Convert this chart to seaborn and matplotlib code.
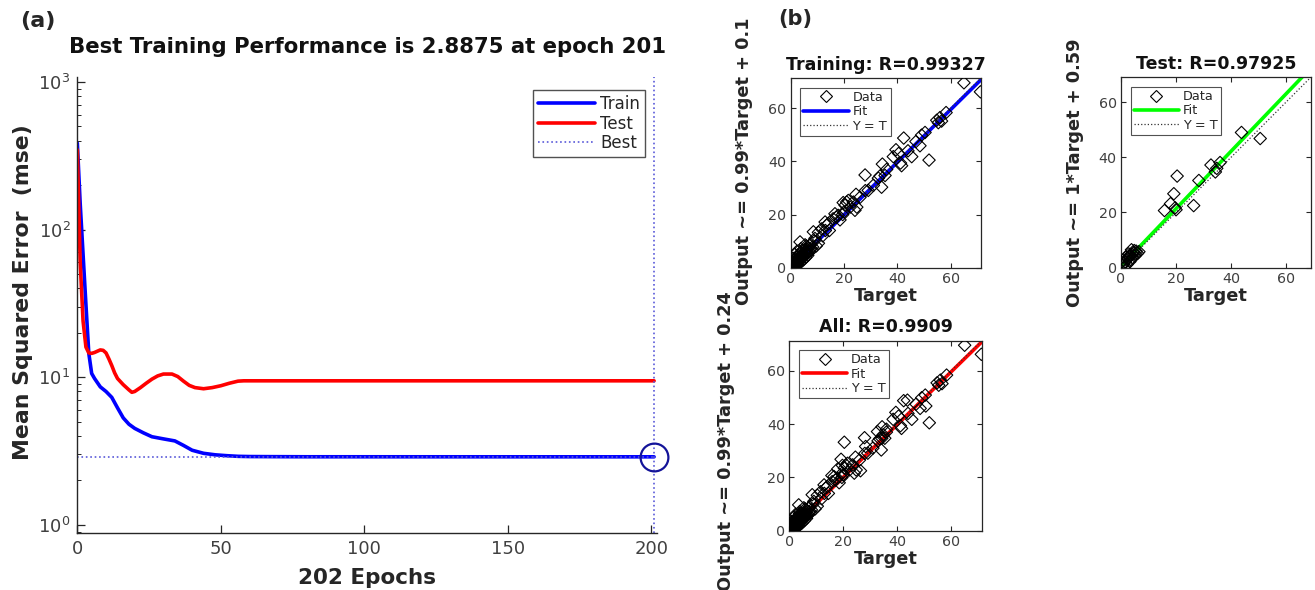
import numpy as np
import pandas as pd
import seaborn as sns
import matplotlib.pyplot as plt
from matplotlib.lines import Line2D

# ---- panel (a): training performance ----
train_epoch = [0, 1, 2, 3, 4, 5, 6, 8, 10, 12, 14, 16, 18, 20, 23, 26, 30, 34, 37, 40,
               44, 48, 52, 56, 60, 68, 80, 201]
train_mse = [385, 150, 68, 31, 14.5, 10.6, 9.8, 8.6, 8.0, 7.3, 6.2, 5.3, 4.8, 4.5, 4.2,
             3.95, 3.82, 3.7, 3.45, 3.2, 3.05, 2.98, 2.94, 2.91, 2.9, 2.895, 2.89, 2.8875]

test_epoch = [0, 1, 2, 3, 4, 5, 6, 7, 8, 9, 10, 11, 12, 13, 14, 16, 18, 19, 20, 22, 24,
              26, 28, 30, 33, 35, 37, 39, 41, 44, 47, 50, 53, 56, 58, 201]
test_mse = [347, 60, 24, 16, 14.6, 14.5, 14.7, 15.0, 15.3, 15.2, 14.6, 13.3, 12.0, 10.7,
            9.8, 8.9, 8.2, 7.9, 8.0, 8.5, 9.1, 9.7, 10.2, 10.5, 10.5, 10.1, 9.4, 8.8, 8.5,
            8.35, 8.5, 8.75, 9.1, 9.4, 9.45, 9.45]

best_epoch = 201
best_perf = 2.8875
n_epochs = 202

# ---- panel (b): regression ----
train_target = [65.0, 71.2, 58.3, 56.0, 55.4, 54.8, 56.6, 50.4, 49.1, 48.5, 51.9, 42.4,
                39.5, 38.5, 41.6, 41.2, 45.4, 40.5, 34.4, 35.4, 32.9, 34.1, 27.9, 29.1,
                28.0, 31.0, 24.5, 23.5, 21.0, 20.4, 19.7, 21.6, 22.3, 24.1, 24.8, 16.6,
                17.8, 15.9, 17.1, 18.5, 19.5, 14.1, 13.5, 12.9, 11.6, 10.4, 8.5, 3.5, 9.1,
                10.4, 7.3, 5.4, 12.0, 13.0, 14.5, 20.0, 26.0, 33.5, 44.0, 47.0, 36.0,
                0.3, 0.5, 0.8, 1.0, 1.2, 1.5, 1.7, 2.0, 2.2, 2.5, 2.7, 3.0, 3.2, 3.5, 3.7,
                4.0, 4.2, 4.5, 4.7, 5.0, 5.2, 5.5, 5.8, 6.0, 6.3, 6.6, 7.0, 7.3, 7.8, 8.2,
                0.2, 0.6, 0.9, 1.3, 1.8, 2.3, 2.8, 3.3, 3.8, 4.3, 0.4, 1.1, 1.9, 2.6, 3.4,
                4.1, 4.8, 5.6, 6.4, 0.1, 0.7, 1.4, 2.1, 2.9, 3.6, 4.4, 5.3, 6.2, 2.4, 1.6,
                0.9, 3.9, 5.9, 7.6, 8.8, 9.6]
train_output = [69.6, 66.2, 58.4, 56.5, 54.6, 55.5, 55.2, 50.9, 49.9, 45.9, 40.5, 48.8,
                44.4, 41.8, 38.4, 39.4, 41.8, 43.0, 39.0, 34.7, 33.7, 30.3, 34.9, 29.1,
                29.0, 31.0, 27.6, 24.7, 24.7, 23.5, 24.5, 25.3, 22.8, 21.6, 22.8, 20.3,
                19.7, 18.4, 19.0, 18.0, 20.0, 16.6, 16.0, 17.2, 14.6, 13.3, 13.5, 9.7, 11.0,
                9.2, 8.6, 8.6, 12.0, 14.0, 14.0, 21.0, 26.5, 34.5, 44.0, 47.5, 37.0,
                0.2, 0.8, 0.4, 1.2, 0.6, 1.8, 1.0, 2.3, 1.5, 3.0, 2.0, 3.5, 2.6, 4.2, 3.0,
                4.8, 3.6, 5.4, 4.0, 5.8, 4.6, 6.2, 5.0, 6.6, 5.6, 7.2, 6.0, 7.0, 6.6, 7.8,
                1.0, 1.6, 2.2, 2.8, 3.4, 4.0, 4.6, 5.2, 5.8, 6.4, 0.0, 0.2, 0.8, 1.2, 1.8,
                2.4, 3.0, 3.8, 4.6, 0.5, 0.1, 1.4, 2.8, 3.3, 3.9, 4.4, 5.5, 7.0, 6.2, 5.0,
                3.5, 7.2, 8.2, 9.0, 10.0, 8.2]

test_target = [43.8, 50.6, 32.7, 36.0, 34.3, 28.3, 20.4, 19.2, 18.0, 15.8, 19.7, 20.0,
               26.4, 34.8, 0.5, 1.0, 1.5, 2.0, 2.5, 3.0, 3.5, 4.0, 4.5, 5.0, 5.5, 6.0,
               6.5, 2.2, 3.2, 4.2, 1.8, 2.8, 3.8, 1.2, 0.2, 5.2, 4.8, 3.4]
test_output = [49.0, 46.8, 37.2, 38.1, 34.7, 31.6, 33.2, 26.8, 23.2, 20.7, 21.7, 21.0,
               22.5, 36.0, 0.8, 1.5, 2.2, 2.8, 3.5, 4.2, 3.0, 4.8, 5.5, 4.2, 6.0, 5.2,
               5.8, 1.2, 2.2, 3.6, 3.8, 5.0, 6.5, 0.2, 2.0, 5.0, 6.2, 4.6]

panels = [
    dict(title="Training: R=0.99327", ylabel="Output ~= 0.99*Target + 0.1",
         slope=0.99, icpt=0.1, color=(0, 0, 1), lim=71.3,
         target=train_target, output=train_output),
    dict(title="Test: R=0.97925", ylabel="Output ~= 1*Target + 0.59",
         slope=1.04, icpt=0.59, color=(0, 1, 0), lim=69.0,
         target=test_target, output=test_output),
    dict(title="All: R=0.9909", ylabel="Output ~= 0.99*Target + 0.24",
         slope=0.99, icpt=0.24, color=(1, 0, 0), lim=71.3,
         target=train_target + test_target, output=train_output + test_output),
]

sns.set_style("white")
plt.rcParams['font.family'] = ['DejaVu Sans']
plt.rcParams['mathtext.fontset'] = 'dejavusans'

ink = '#262626'
tick_c = '#404040'

fig = plt.figure(figsize=(13.15, 5.9), dpi=100)

# ---------- (a) ----------
ax = fig.add_axes([0.0588, 0.0966, 0.4408, 0.7729])
sns.lineplot(x=train_epoch, y=train_mse, ax=ax, color=(0, 0, 1), lw=2.6)
sns.lineplot(x=test_epoch, y=test_mse, ax=ax, color=(1, 0, 0), lw=2.6)
best_c = (0.35, 0.35, 0.85)
ax.plot([0, best_epoch], [best_perf, best_perf], ls=':', color=best_c, lw=1.2)
ax.axvline(best_epoch, ls=':', color=best_c, lw=1.2)
ax.plot([best_epoch], [best_perf], 'o', mfc='none', mec=(0.08, 0.08, 0.6), ms=20, mew=1.6,
        clip_on=False, zorder=5)
ax.set_yscale('log')
ax.set_xlim(0, n_epochs)
ax.set_ylim(0.88, 1080)
ax.set_xticks([0, 50, 100, 150, 200])
for s in ['top', 'right']:
    ax.spines[s].set_visible(False)
for s in ['left', 'bottom']:
    ax.spines[s].set_color(ink)
    ax.spines[s].set_linewidth(1.0)
ax.tick_params(which='major', direction='in', length=6, width=0.9, color=ink,
               labelsize=13, labelcolor=tick_c, pad=5, bottom=True, left=True)
ax.tick_params(axis='y', which='minor', direction='in', length=3, width=0.7, color=ink,
               left=True)
ax.tick_params(axis='x', which='minor', bottom=False)
ax.set_title("Best Training Performance is 2.8875 at epoch 201", fontsize=15.3,
             fontweight='bold', pad=17, color='#111111')
ax.set_xlabel("202 Epochs", fontsize=15.5, fontweight='bold', color=ink, labelpad=7)
ax.set_ylabel("Mean Squared Error  (mse)", fontsize=15.8, fontweight='bold', color=ink)
ax.yaxis.set_label_coords(-0.077, 0.528)
handles = [Line2D([], [], color=(0, 0, 1), lw=2.6),
           Line2D([], [], color=(1, 0, 0), lw=2.6),
           Line2D([], [], color=best_c, lw=1.2, ls=':')]
leg = ax.legend(handles, ["Train", "Test", "Best"], loc='upper right',
                bbox_to_anchor=(0.979, 0.971), fontsize=12, fancybox=False,
                edgecolor=ink, handlelength=3.4, labelspacing=0.08,
                borderpad=0.3, handletextpad=0.3, borderaxespad=0)
leg.get_frame().set_linewidth(1.0)
for t in leg.get_texts():
    t.set_color(ink)

# ---------- (b) ----------
rects = [[0.6013, 0.5463, 0.1445, 0.321],
         [0.8525, 0.5463, 0.1443, 0.3227],
         [0.6002, 0.1005, 0.1463, 0.322]]
ylab_pos = [(-0.2, 0.56), (-0.195, 0.5), (-0.28, 0.47)]

for p, r, (lx, ly) in zip(panels, rects, ylab_pos):
    bx = fig.add_axes(r)
    df = pd.DataFrame({"Target": p["target"], "Output": p["output"]})
    lim = p["lim"]
    sns.scatterplot(data=df, x="Target", y="Output", ax=bx, marker='D', s=40,
                    facecolor='none', edgecolor='black', linewidth=0.8, zorder=3)
    fx = np.array([0, lim])
    bx.plot(fx, p["slope"] * fx + p["icpt"], color=p["color"], lw=2.6, zorder=2)
    bx.plot(fx, fx, ls=':', color='#333333', lw=0.9, zorder=2)
    bx.set_xlim(0, lim)
    bx.set_ylim(0, lim)
    bx.set_xticks([0, 20, 40, 60])
    bx.set_yticks([0, 20, 40, 60])
    for s in bx.spines.values():
        s.set_color(ink)
        s.set_linewidth(0.9)
    bx.tick_params(direction='in', length=3.5, width=0.8, color=ink, labelsize=10.3,
                   labelcolor=tick_c, top=True, right=True, bottom=True, left=True, pad=3)
    bx.set_title(p["title"], fontsize=12.5, fontweight='bold', pad=6, color='#111111')
    bx.set_xlabel("Target", fontsize=12.8, fontweight='bold', color=ink, labelpad=1)
    bx.set_ylabel(p["ylabel"], fontsize=12.8, fontweight='bold', color=ink)
    bx.yaxis.set_label_coords(lx, ly)
    hs = [Line2D([], [], marker='D', ls='none', mfc='none', mec='black', ms=6, mew=0.8),
          Line2D([], [], color=p["color"], lw=2.6),
          Line2D([], [], color='#333333', lw=0.9, ls=':')]
    lg = bx.legend(hs, ["Data", "Fit", "Y = T"], loc='upper left',
                   bbox_to_anchor=(0.05, 0.95), fontsize=9.3, fancybox=False,
                   edgecolor=ink, handlelength=3.5, labelspacing=0.1,
                   borderpad=0.25, handletextpad=0.3, borderaxespad=0)
    lg.get_frame().set_linewidth(0.8)
    for t in lg.get_texts():
        t.set_color(ink)

fig.text(0.015, 0.965, "(a)", fontsize=16, fontweight='bold', va='center')
fig.text(0.592, 0.968, "(b)", fontsize=15, fontweight='bold', va='center')

fig.savefig("out.png", dpi=100, facecolor='white')
